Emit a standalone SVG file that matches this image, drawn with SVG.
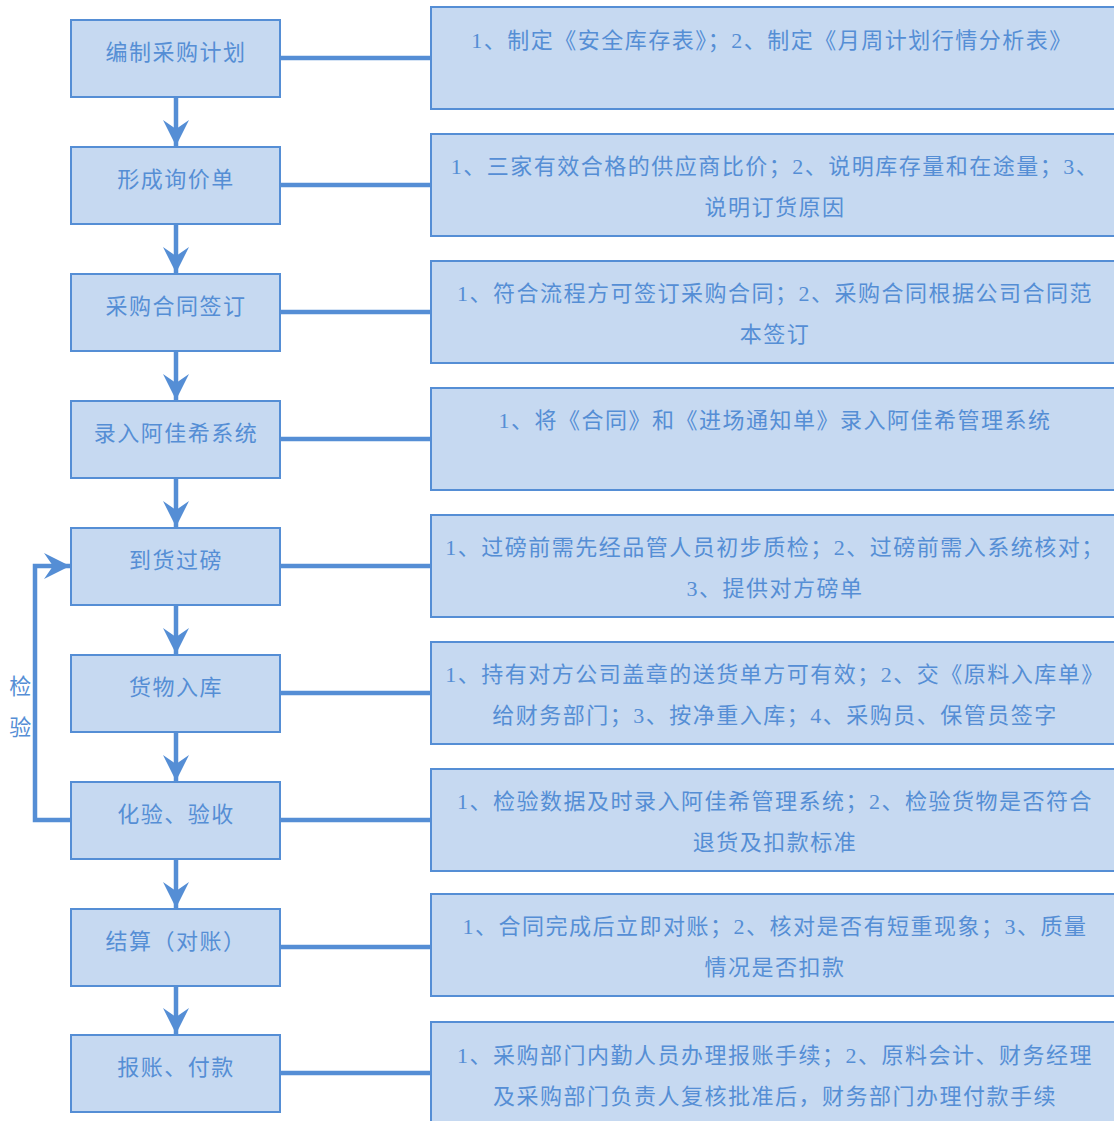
<svg xmlns="http://www.w3.org/2000/svg" width="1114" height="1121" viewBox="0 0 1114 1121">
<style>
.n{fill:#C6D9F1;stroke:#558ED5;stroke-width:2}
.t{font-family:"Liberation Serif","Noto Sans CJK SC",serif;font-size:22px;fill:#558ED5;text-anchor:middle;dominant-baseline:central;letter-spacing:1.5px}
.c{fill:none;stroke:#558ED5;stroke-width:4.5}
</style>
<defs>
<marker id="ah" viewBox="0 0 26 26" markerWidth="26" markerHeight="26" refX="26" refY="13" orient="auto" markerUnits="userSpaceOnUse">
<path d="M0,0 L26,13 L0,26 L9,13 Z" fill="#558ED5"/>
</marker>
</defs>
<g id="connectors">
<path class="c" d="M280,58H431"/>
<path class="c" d="M280,185H431"/>
<path class="c" d="M280,312H431"/>
<path class="c" d="M280,439H431"/>
<path class="c" d="M280,566H431"/>
<path class="c" d="M280,693H431"/>
<path class="c" d="M280,820H431"/>
<path class="c" d="M280,947H431"/>
<path class="c" d="M280,1073H431"/>
<path class="c" d="M176,97V146" marker-end="url(#ah)"/>
<path class="c" d="M176,224V273" marker-end="url(#ah)"/>
<path class="c" d="M176,351V400" marker-end="url(#ah)"/>
<path class="c" d="M176,478V527" marker-end="url(#ah)"/>
<path class="c" d="M176,605V654" marker-end="url(#ah)"/>
<path class="c" d="M176,732V781" marker-end="url(#ah)"/>
<path class="c" d="M176,859V908" marker-end="url(#ah)"/>
<path class="c" d="M176,986V1034" marker-end="url(#ah)"/>
<path class="c" d="M72,820H35V566H70" marker-end="url(#ah)"/>
<text class="t" x="21" y="686">检</text>
<text class="t" x="21" y="727">验</text>
</g>
<g id="n1"><rect class="n" x="71" y="20" width="209" height="77"/><text class="t" x="176" y="52">编制采购计划</text></g>
<g id="n2"><rect class="n" x="71" y="147" width="209" height="77"/><text class="t" x="176" y="179">形成询价单</text></g>
<g id="n3"><rect class="n" x="71" y="274" width="209" height="77"/><text class="t" x="176" y="306">采购合同签订</text></g>
<g id="n4"><rect class="n" x="71" y="401" width="209" height="77"/><text class="t" x="176" y="433">录入阿佳希系统</text></g>
<g id="n5"><rect class="n" x="71" y="528" width="209" height="77"/><text class="t" x="176" y="560">到货过磅</text></g>
<g id="n6"><rect class="n" x="71" y="655" width="209" height="77"/><text class="t" x="176" y="687">货物入库</text></g>
<g id="n7"><rect class="n" x="71" y="782" width="209" height="77"/><text class="t" x="176" y="814">化验、验收</text></g>
<g id="n8"><rect class="n" x="71" y="909" width="209" height="77"/><text class="t" x="176" y="941">结算（对账）</text></g>
<g id="n9"><rect class="n" x="71" y="1035" width="209" height="77"/><text class="t" x="176" y="1067">报账、付款</text></g>
<g id="b1"><rect class="n" x="431" y="7" width="690" height="102"/><text class="t" x="772" y="40">1、制定《安全库存表》；2、制定《月周计划行情分析表》</text></g>
<g id="b2"><rect class="n" x="431" y="134" width="690" height="102"/><text class="t" x="775" y="166">1、三家有效合格的供应商比价；2、说明库存量和在途量；3、</text><text class="t" x="775" y="207">说明订货原因</text></g>
<g id="b3"><rect class="n" x="431" y="261" width="690" height="102"/><text class="t" x="775" y="293">1、符合流程方可签订采购合同；2、采购合同根据公司合同范</text><text class="t" x="775" y="334">本签订</text></g>
<g id="b4"><rect class="n" x="431" y="388" width="690" height="102"/><text class="t" x="775" y="420">1、将《合同》和《进场通知单》录入阿佳希管理系统</text></g>
<g id="b5"><rect class="n" x="431" y="515" width="690" height="102"/><text class="t" x="775" y="547">1、过磅前需先经品管人员初步质检；2、过磅前需入系统核对；</text><text class="t" x="775" y="588">3、提供对方磅单</text></g>
<g id="b6"><rect class="n" x="431" y="642" width="690" height="102"/><text class="t" x="775" y="674">1、持有对方公司盖章的送货单方可有效；2、交《原料入库单》</text><text class="t" x="775" y="715">给财务部门；3、按净重入库；4、采购员、保管员签字</text></g>
<g id="b7"><rect class="n" x="431" y="769" width="690" height="102"/><text class="t" x="775" y="801">1、检验数据及时录入阿佳希管理系统；2、检验货物是否符合</text><text class="t" x="775" y="842">退货及扣款标准</text></g>
<g id="b8"><rect class="n" x="431" y="894" width="690" height="102"/><text class="t" x="775" y="926">1、合同完成后立即对账；2、核对是否有短重现象；3、质量</text><text class="t" x="775" y="967">情况是否扣款</text></g>
<g id="b9"><rect class="n" x="431" y="1022" width="690" height="102"/><text class="t" x="775" y="1055">1、采购部门内勤人员办理报账手续；2、原料会计、财务经理</text><text class="t" x="775" y="1096">及采购部门负责人复核批准后，财务部门办理付款手续</text></g>
</svg>
